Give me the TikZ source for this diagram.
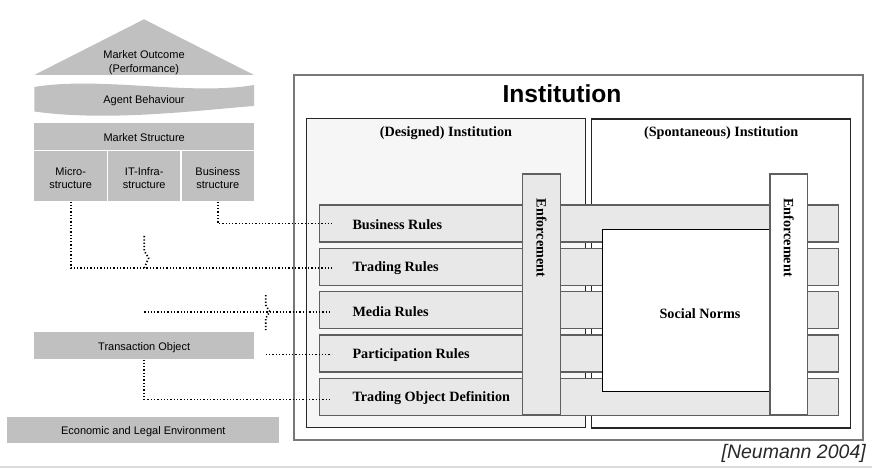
\documentclass[tikz,border=0pt]{standalone}
\usepackage{fontspec}
\setmainfont{Liberation Serif}
\setsansfont{Liberation Sans}
\definecolor{hgray}{RGB}{192,192,192}
\definecolor{barfill}{RGB}{232,232,232}
\definecolor{desfill}{RGB}{246,246,246}
\definecolor{edgegray}{RGB}{95,95,95}
\definecolor{outergray}{RGB}{120,120,120}
\definecolor{citegray}{RGB}{40,40,40}
\begin{document}
\begin{tikzpicture}[x=1pt,y=-1pt,
  hbox/.style={rectangle,fill=hgray,inner sep=0pt,font=\sffamily\fontsize{11}{13.5}\selectfont,align=center},
  hline/.style={hbox,text height=9.6pt,text depth=0pt},
  htext/.style={inner sep=0pt,font=\sffamily\fontsize{11}{13.5}\selectfont,align=center},
  rulebar/.style={rectangle,draw=edgegray,fill=barfill,line width=1.2pt,minimum width=519pt,minimum height=37pt,inner sep=0pt},
  serifbold/.style={inner sep=0pt,font=\bfseries\fontsize{14.2}{16}\selectfont},
  ruletext/.style={serifbold,anchor=west},
  enfbox/.style={rectangle,draw=edgegray,line width=1.3pt,minimum width=37.6pt,minimum height=241pt,inner sep=0pt},
  enftext/.style={serifbold,rotate=-90},
  instbox/.style={rectangle,draw=black!85,line width=1.4pt,inner sep=0pt,minimum height=309pt},
  dotline/.style={line width=1.6pt,line cap=butt,dash pattern=on 1.3pt off 2pt}
]
\useasboundingbox (0,0) rectangle (872,470);
\fill[white] (0,0) rectangle (872,470);
\draw[line width=2pt,black!14] (0,467) -- (872,467);

% ---------- house ----------
\fill[hgray] (34.3,75) -- (144,19.3) -- (254,75) -- cycle;
\node[htext] (outcome) at (144,62.5) {Market Outcome\\(Performance)};
\fill[hgray] (34.3,87) .. controls (100,76) and (190,96) .. (254,85)
   -- (254,106) .. controls (200,110) and (110,122) .. (34.3,111.5) -- cycle;
\node[htext] (agent) at (144,100.5) {Agent Behaviour};
\node[hline,minimum width=219.7pt,minimum height=27pt] (mstruct) at (144.2,136.5) {Market Structure};
\node[hbox,minimum width=72.7pt,minimum height=50.3pt] (micro) at (70.7,176.2) {};
\node[hbox,minimum width=72pt,minimum height=50.3pt] (itinfra) at (144.2,176.2) {};
\node[hbox,minimum width=72.5pt,minimum height=50.3pt] (bstruct) at (217.8,176.2) {};
\node[htext] (microt) at (70.7,178) {Micro-\\structure};
\node[htext] (itinfrat) at (144.2,178) {IT-Infra-\\structure};
\node[htext] (bstructt) at (217.8,178) {Business\\structure};
\node[hline,minimum width=219.7pt,minimum height=27pt] (trans) at (144.2,345.8) {Transaction Object};
\node[hline,minimum width=272pt,minimum height=26.6pt] (econ) at (143.3,430) {Economic and Legal Environment};

% ---------- institution ----------
\node[rectangle,draw=outergray,line width=1.3pt,fill=white,minimum width=569pt,minimum height=365pt,inner sep=0pt] (outer) at (578.5,257.5) {};
\node[inner sep=0pt,font=\sffamily\bfseries\fontsize{24.6}{28}\selectfont] (insttitle) at (562,94) {Institution};
\node[instbox,fill=desfill,minimum width=278.6pt] (designed) at (446,273.2) {};
\node[instbox,fill=white,minimum width=259pt] (spont) at (721.2,273.6) {};
\node[serifbold] (destitle) at (446,133.3) {(Designed) Institution};
\node[serifbold] (spotitle) at (721.2,133.3) {(Spontaneous) Institution};

\node[rulebar] (bar1) at (578.8,223.5) {};
\node[rulebar] (bar2) at (578.8,266.7) {};
\node[rulebar] (bar3) at (578.8,310.2) {};
\node[rulebar] (bar4) at (578.8,353.5) {};
\node[rulebar] (bar5) at (578.8,396.7) {};
\node[ruletext] (t1) at (352.3,225) {Business Rules};
\node[ruletext] (t2) at (352.3,268.2) {Trading Rules};
\node[ruletext] (t3) at (352.3,311.7) {Media Rules};
\node[ruletext] (t4) at (352.3,355) {Participation Rules};
\node[ruletext] (t5) at (352.3,398.2) {Trading Object Definition};

\node[rectangle,draw=black,line width=1pt,fill=white,minimum width=194.3pt,minimum height=161.7pt,inner sep=0pt] (social) at (700,310.2) {};
\node[serifbold] (socialtext) at (700,314) {Social Norms};

\node[enfbox,fill=barfill] (enf1) at (541.5,294.5) {};
\node[enftext] (enf1t) at (541.5,238) {Enforcement};
\node[enfbox,fill=white] (enf2) at (788.8,294.5) {};
\node[enftext] (enf2t) at (788.8,237.5) {Enforcement};

% ---------- dotted connectors ----------
\coordinate (j1) at (144.2,236);
\coordinate (m0) at (144.2,311.7);
\coordinate (j2) at (265.7,295);
\coordinate (p0) at (265.7,354.3);
\draw[dotline] (bstruct.south) |- ([xshift=13pt]bar1.west);
\draw[dotline] (micro.south) |- ([xshift=13pt,yshift=-1pt]bar2.west);
\draw[dotline] (j1) -- ++(0,15) -- ++(4.5,7) -- ++(-4.5,10);
\draw[dotline] (m0) -- ([xshift=13pt,yshift=-1.5pt]bar3.west);
\draw[dotline] (j2) -- ++(0,10) -- ++(4,6.7) -- ++(-4,6.7) -- ++(0,11.6);
\draw[dotline] (p0) -- ([xshift=13pt,yshift=-0.8pt]bar4.west);
\draw[dotline] (trans.south) |- ([xshift=13pt,yshift=-2.6pt]bar5.west);

\node[anchor=east,inner sep=0pt,text=citegray,font=\sffamily\itshape\fontsize{19.5}{22}\selectfont] (cite) at (866,453) {[Neumann 2004]};
\end{tikzpicture}
\end{document}
